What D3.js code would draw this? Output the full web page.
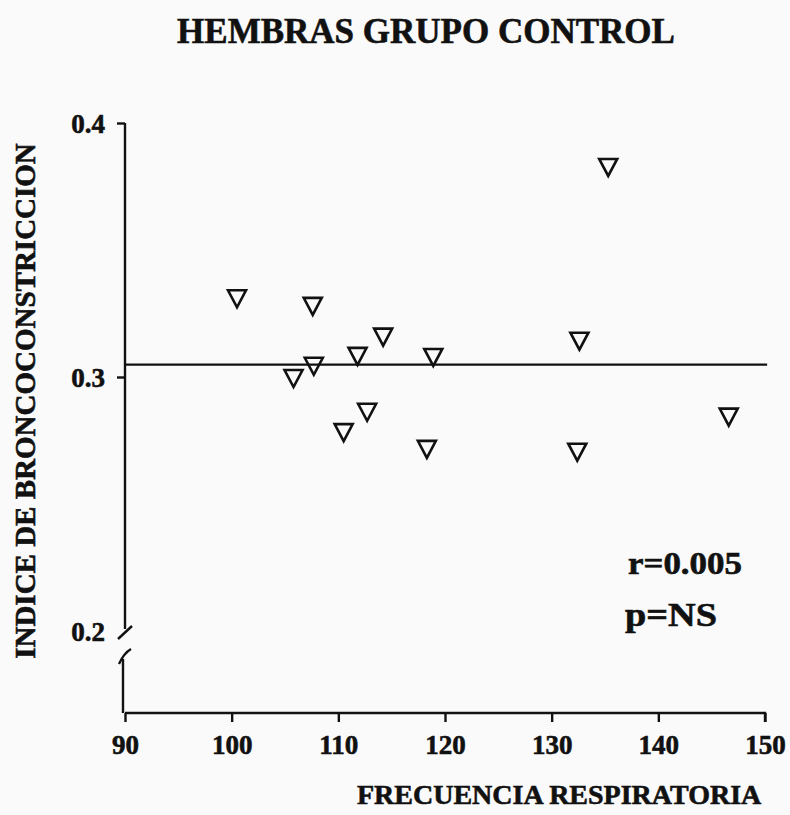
<!DOCTYPE html>
<meta charset="utf-8">
<style>
body{ margin:0; background:#fafafa; }
text{ font-family:"Liberation Serif","Times New Roman",serif; font-weight:bold; fill:#111; stroke:#111; stroke-width:0.6px; }
.axis path, .axis line{ stroke:#111; stroke-width:2.4px; }
</style>
<body>
<script src="https://d3js.org/d3.v7.min.js"></script>
<script>

var frecuencia=[100.5,107.6,105.8,107.7,111.8,114.2,112.7,110.5,118.9,118.3,132.6,132.4,135.3,146.6];
var indice=[0.331,0.328,0.2996,0.3044,0.3083,0.3159,0.2863,0.2783,0.3079,0.2717,0.3143,0.2706,0.3827,0.2844];
var fitX=[90,150.2];
var fitY=[0.3049,0.3049];
var xTicks=[90,100,110,120,130,140,150];
var yTicks=[0.2,0.3,0.4];

var w=790,h=815;
var svg=d3.select("body").append("svg").attr("width",w).attr("height",h);

var x=d3.scaleLinear().domain([90,150]).range([125,765]);
var y=d3.scaleLinear().domain([0.2,0.4]).range([631,123]);
var yBase=713;

svg.append("text").attr("x",426).attr("y",43).attr("text-anchor","middle")
  .style("font-size","35px").text("HEMBRAS GRUPO CONTROL");

// x axis
var xAxis=svg.append("g").attr("class","axis").attr("transform","translate(0,"+yBase+")")
  .call(d3.axisBottom(x).tickValues(xTicks).tickSize(9).tickSizeOuter(0).tickPadding(13));
xAxis.select(".domain").attr("d","M"+x(90)+",0H"+x(150)+"V9");
xAxis.selectAll("text").style("font-size","27px").style("font-family",null);

// y axis (upper part)
var yAxis=svg.append("g").attr("class","axis").attr("transform","translate("+x(90)+",0)")
  .call(d3.axisLeft(y).tickValues(yTicks).tickFormat(d3.format(".1f")).tickSize(8).tickSizeOuter(0).tickPadding(12));
yAxis.select(".domain").attr("d","M0,"+y(0.4)+"V"+(y(0.2)-2));
yAxis.selectAll(".tick").filter(d=>d==0.2).select("line").remove();
yAxis.selectAll("text").style("font-size","27px").style("font-family",null).attr("dy","0.35em");

// axis break
var brk=svg.append("g").attr("stroke","#111").attr("stroke-width",2.4).attr("fill","none");
brk.append("path").attr("d","M"+(x(90)-7)+","+(y(0.2)+8)+"L"+(x(90)+7)+","+(y(0.2)-5));
brk.append("path").attr("d","M"+(x(90)-6)+","+(y(0.2)+33)+"Q"+(x(90)-1)+","+(y(0.2)+22)+" "+(x(90)+6)+","+(y(0.2)+18));
brk.append("path").attr("d","M"+(x(90)-2)+","+(y(0.2)+28)+"L"+(x(90)-2)+","+yBase);

// fit line
svg.append("path").datum(d3.zip(fitX,fitY))
  .attr("d",d3.line().x(d=>x(d[0])).y(d=>y(d[1])))
  .attr("stroke","#111").attr("stroke-width",2.2).attr("fill","none");

// points
svg.append("g").selectAll("path").data(d3.zip(frecuencia,indice)).join("path")
  .attr("transform",d=>"translate("+x(d[0])+","+y(d[1])+")")
  .attr("d","M-9,-8L9,-8L0,9Z")
  .attr("fill","none").attr("stroke","#111").attr("stroke-width",2.6);

svg.append("text").attr("x",628).attr("y",574).attr("textLength",114).attr("lengthAdjust","spacingAndGlyphs")
  .style("font-size","31px").text("r=0.005");
svg.append("text").attr("x",625).attr("y",626).attr("textLength",92).attr("lengthAdjust","spacingAndGlyphs")
  .style("font-size","34px").text("p=NS");

svg.append("text").attr("x",357).attr("y",804)
  .style("font-size","28px").text("FRECUENCIA RESPIRATORIA");
svg.append("text").attr("transform","translate(35,401) rotate(-90)").attr("text-anchor","middle")
  .style("font-size","29px").text("INDICE DE BRONCOCONSTRICCION");

</script>
</body>
</html>
